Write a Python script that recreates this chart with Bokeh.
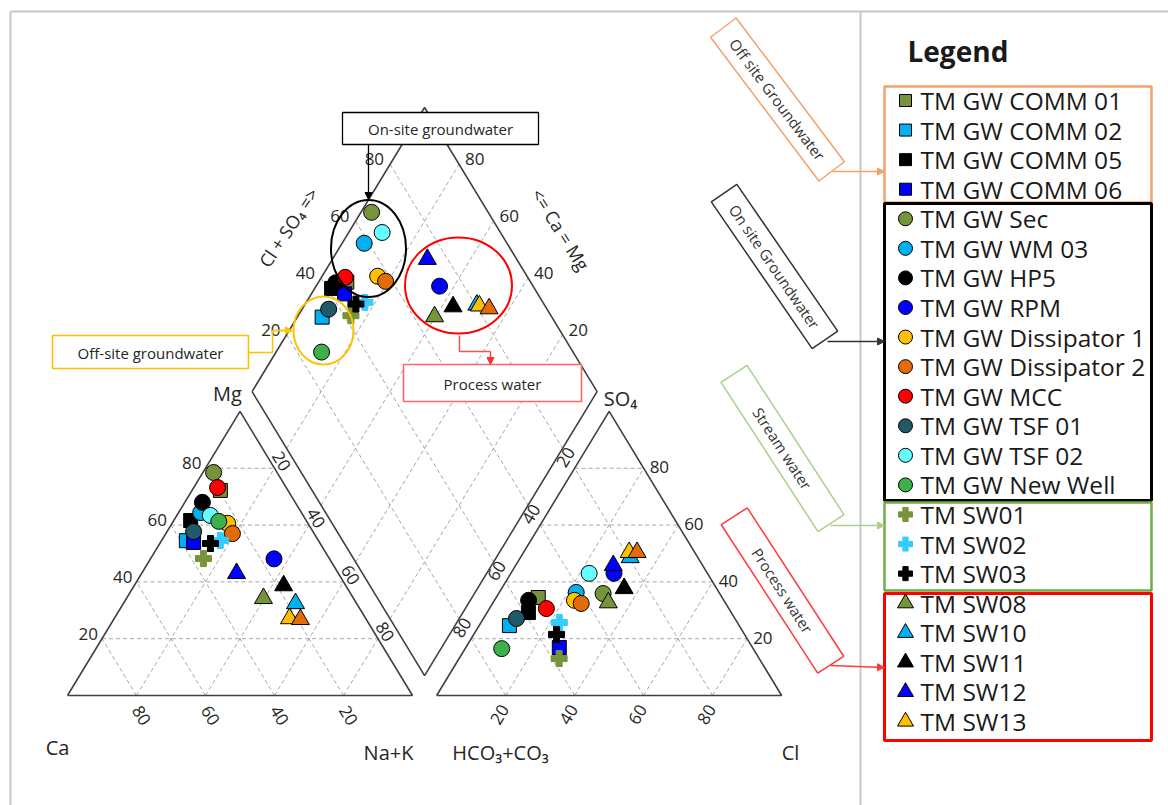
import math
from bokeh.plotting import figure
from bokeh.models import Range1d, Arrow, NormalHead
from bokeh.core.properties import value
from bokeh.embed import file_html
from bokeh.resources import INLINE

# ---------------- sample chemistry (meq %) ----------------
names = ["TM GW COMM 01", "TM GW COMM 02", "TM GW COMM 05", "TM GW COMM 06",
         "TM GW Sec", "TM GW WM 03", "TM GW HP5", "TM GW RPM",
         "TM GW Dissipator 1", "TM GW Dissipator 2", "TM GW MCC",
         "TM GW TSF 01", "TM GW TSF 02", "TM GW New Well",
         "TM SW01", "TM SW02", "TM SW03",
         "TM SW08", "TM SW10", "TM SW11", "TM SW12", "TM SW13", "TM SW process"]
in_legend = [True] * 22 + [False]

ca = [19.6, 38.3, 33.5, 36.5, 18.4, 29.2, 26.9, 16.1, 23.3, 23.7, 19.9, 34.6,
      26.9, 25.5, 36.5, 28.4, 31.8, 26.1, 17.7, 18.0, 29.5, 22.1, 19.1]
mg = [72.2, 54.5, 61.6, 53.9, 78.5, 64.4, 68.0, 48.1, 60.6, 57.0, 73.2, 57.7,
      63.4, 61.3, 48.2, 54.6, 53.5, 34.2, 32.4, 38.7, 43.0, 27.1, 26.8]
nak = [8.2, 7.2, 4.9, 9.6, 3.1, 6.4, 5.1, 35.8, 16.1, 19.3, 6.9, 7.7,
       9.7, 13.2, 15.3, 17.0, 14.7, 39.7, 49.9, 43.3, 27.5, 50.8, 54.1]
hco3 = [53.3, 66.6, 58.8, 56.0, 33.8, 41.4, 56.6, 27.1, 43.3, 41.9, 52.9, 63.3,
        34.3, 72.9, 58.0, 51.6, 54.5, 33.9, 19.6, 26.8, 25.9, 19.0, 16.7]
so4 = [34.5, 24.6, 29.2, 16.9, 35.9, 36.3, 33.5, 43.0, 33.5, 32.4, 30.6, 27.1,
       43.0, 16.5, 13.0, 25.7, 21.5, 32.7, 48.6, 37.7, 45.8, 50.4, 50.4]
cl = [12.2, 8.8, 12.0, 27.1, 30.3, 22.3, 9.9, 29.9, 23.2, 25.7, 16.5, 9.6,
      22.7, 10.6, 29.0, 22.7, 24.0, 33.4, 31.8, 35.5, 28.3, 30.6, 32.9]

ticks = [20, 40, 60, 80]

# ---------------- marker styles ----------------
OLIVE, SKY, BLACK, BLUE = "#77933C", "#00B0F0", "#000000", "#0000FF"
GOLD, ORANGE, RED, TEAL = "#FFC000", "#E36C09", "#FF0000", "#215968"
CYAN, GREEN, SKY2 = "#66FFFF", "#3EB049", "#33CCFF"
shapes = ["square"] * 4 + ["circle"] * 10 + ["plus"] * 3 + ["triangle"] * 6
fills = [OLIVE, SKY, BLACK, BLUE,
         OLIVE, SKY, BLACK, BLUE, GOLD, ORANGE, RED, TEAL, CYAN, GREEN,
         OLIVE, SKY2, BLACK,
         OLIVE, SKY, BLACK, BLUE, GOLD, ORANGE]
SIZES = {"square": 14, "circle": 16, "plus": 16, "triangle": 18}

# ---------------- page geometry ----------------
W, H = 1168, 805
X0, Y0 = 67.0, 695.0      # page pixel of the Ca corner
SX, SY = 3.45, 3.28       # page pixels per diagram unit
GAP = 7.0                 # gap between the two triangles
HT = math.sqrt(3) / 2
OX = 100 + GAP            # origin of the anion triangle
FONT = "Open Sans"
TXT = "#262626"
LINE = "#404040"
GRID = "#a6a6a6"


def P(px, py):
    return ((px - X0) / SX, (Y0 - py) / SY)


def shift(pt, dx, dy):
    return (pt[0] + dx / SX, pt[1] - dy / SY)


def dpt(a, c):
    """Diamond position for Na+K = a and Cl+SO4 = c."""
    return ((a + OX + c) / 2, HT * (OX + c - a))


p = figure(width=W, height=H, x_range=Range1d(-X0 / SX, (W - X0) / SX),
           y_range=Range1d((Y0 - H) / SY, Y0 / SY), output_backend="svg",
           toolbar_location=None, x_axis_type=None, y_axis_type=None,
           min_border=0)
p.outline_line_color = None
p.background_fill_color = "white"
p.border_fill_color = "white"


def label(pt, s, size, angle=0.0, align="center", baseline="middle",
          color=TXT, style="normal"):
    p.text(x=[pt[0]], y=[pt[1]], text=[s], angle=math.radians(angle),
           text_align=align, text_baseline=baseline, text_font=value(FONT),
           text_font_size=value(f"{size}px"), text_color=color,
           text_font_style=value(style))


def pline(points, color, width=1.0, dash="solid"):
    pts = [P(*q) for q in points]
    p.line([q[0] for q in pts], [q[1] for q in pts], line_color=color,
           line_width=width, line_dash=dash)


# ---------------- page frame ----------------
pline([(10, 11), (W, 11)], "#c8c8c8", 2)
pline([(10, 11), (10, H)], "#c8c8c8", 2)
pline([(860, 11), (860, H)], "#c8c8c8", 2)

# ---------------- grid ----------------
gx, gy = [], []


def seg(a, b):
    gx.append([a[0], b[0]])
    gy.append([a[1], b[1]])


for k in ticks:
    r = 100 - k
    # cation triangle
    seg((k / 2, k * HT), (100 - k / 2, k * HT))
    seg((100 - k, 0), (r / 2, r * HT))
    seg((k, 0), (k + r / 2, r * HT))
    # anion triangle
    seg((OX + k / 2, k * HT), (OX + 100 - k / 2, k * HT))
    seg((OX + k, 0), (OX + k + r / 2, r * HT))
    seg((OX + 100 - k, 0), (OX + r / 2, r * HT))
    # diamond
    seg(dpt(k, 0), dpt(k, 100))
    seg(dpt(0, k), dpt(100, k))
p.multi_line(gx, gy, line_color=GRID, line_width=1, line_dash="4 3")

# ---------------- outlines ----------------
outlines = [
    [(0, 0), (100, 0), (50, 100 * HT), (0, 0)],
    [(OX, 0), (OX + 100, 0), (OX + 50, 100 * HT), (OX, 0)],
    [dpt(0, 0), dpt(0, 100), dpt(100, 100), dpt(100, 0), dpt(0, 0)],
]
for poly in outlines:
    p.line([q[0] for q in poly], [q[1] for q in poly], line_color=LINE,
           line_width=1.6)

# ---------------- tick labels ----------------
TS = 17
for k in ticks:
    r = 100 - k
    label(shift((k / 2, k * HT), -4, -5), str(k), TS, align="right")          # Mg
    label(shift((100 - k, 0), 5, 20), str(k), TS, angle=-59)                  # Ca
    label(shift((50 + k / 2, r * HT), 7, -7), str(k), TS, angle=-59)          # Na+K
    label(shift((OX + 100 - k / 2, k * HT), 6, -1), str(k), TS, align="left") # SO4
    label(shift((OX + k, 0), -6, 19), str(k), TS, angle=59)                   # Cl
    label(shift((OX + r / 2, r * HT), -9, -11), str(k), TS, angle=59)         # HCO3
    label(shift(dpt(0, k), -6, -5), str(k), TS, align="right")                # Cl+SO4
    label(shift(dpt(r, 100), 6, -5), str(k), TS, align="left")                # Ca+Mg

# corner and axis titles
CS = 20
label(P(227, 393), "Mg", CS)
label(P(57, 747), "Ca", CS)
label(P(388, 752), "Na+K", CS)
label(P(500, 752), "HCO\u2083+CO\u2083", CS)
label(P(790, 752), "Cl", CS)
label(P(620, 398), "SO\u2084", CS)
label(P(288, 227), "Cl + SO\u2084 =>", 18, angle=56)
label(P(560, 229), "<= Ca = Mg", 18, angle=-58)

# ---------------- samples ----------------
for i in range(len(names)):
    ct = ca[i] + mg[i] + nak[i]
    at = hco3[i] + so4[i] + cl[i]
    m, a = 100 * mg[i] / ct, 100 * nak[i] / ct
    s, c = 100 * so4[i] / at, 100 * cl[i] / at
    dx, dy = dpt(a, s + c)
    xs = [a + m / 2, OX + c + s / 2, dx]
    ys = [m * HT, s * HT, dy]
    edge = fills[i] if shapes[i] == "plus" and fills[i] != BLACK else BLACK
    p.scatter(xs, ys, marker=shapes[i], size=SIZES[shapes[i]],
              fill_color=fills[i], line_color=edge, line_width=1)

# ---------------- group annotations on the diagram ----------------
for (cx, cy, w, h, col) in [(368, 248, 75, 97, "#000000"),
                            (323, 330, 60, 68, "#FFC000"),
                            (458, 285, 107, 96, "#FF0000")]:
    q = P(cx, cy)
    p.ellipse(x=[q[0]], y=[q[1]], width=w, height=h, width_units="screen",
              height_units="screen", fill_color=None, line_color=col,
              line_width=2)


def box(l, t, r, b, col, width=1.3, fill="white"):
    a, z = P(l, t), P(r, b)
    p.quad(left=[a[0]], right=[z[0]], top=[a[1]], bottom=[z[1]],
           fill_color=fill, line_color=col, line_width=width)


def arrow(x1, y1, x2, y2, col, size=7):
    a, z = P(x1, y1), P(x2, y2)
    p.add_layout(Arrow(end=NormalHead(size=size, fill_color=col, line_color=col),
                       x_start=a[0], y_start=a[1], x_end=z[0], y_end=z[1],
                       line_color=col, line_width=1.3))


box(342, 112, 538, 144, "#000000")
label(P(440, 128), "On-site groundwater", 15)
arrow(368, 144, 368, 199, "#000000")

box(52, 335, 248, 368, "#FFC000", 1.6)
label(P(150, 352), "Off-site groundwater", 15)
pline([(248, 352), (272, 352), (272, 330), (285, 330)], "#FFC000", 1.5)
arrow(272, 330, 292, 330, "#FFC000")

box(403, 364, 581, 401, "#FF6666", 1.6)
label(P(492, 383), "Process water", 15)
pline([(459, 335), (459, 351), (490, 351)], "#FF5050", 1.5)
arrow(490, 351, 490, 364, "#FF3030")

# ---------------- legend ----------------
label(P(907, 50), "Legend", 28, align="left", style="bold", color="#1a1a1a")

box(884, 86, 1151, 202, "#F4A26B", 2.5, fill=None)
box(884, 203, 1151, 500, "#000000", 3, fill=None)
box(884, 502, 1151, 590, "#70AD47", 2.5, fill=None)
box(884, 593, 1151, 740, "#FF0000", 3, fill=None)

row = 0
for i in range(len(names)):
    if not in_legend[i]:
        continue
    py = 100 + row * 29.57
    q = P(905, py)
    edge = fills[i] if shapes[i] == "plus" and fills[i] != BLACK else BLACK
    p.scatter([q[0]], [q[1]], marker=shapes[i], size=SIZES[shapes[i]] - 2,
              fill_color=fills[i], line_color=edge, line_width=1)
    label(P(920, py), names[i], 24.5, align="left", color="#1a1a1a")
    row += 1

# rotated group tags pointing at the legend
tags = [("Off site Groundwater", 777, 99, 180, 32, -53, "#F4A26B", (832, 171, 884, 171)),
        ("On site Groundwater", 774, 266, 178, 31, -55.5, "#333333", (827, 341, 884, 341)),
        ("Stream water", 782, 448, 178, 31, -57, "#A9D18E", (830, 525, 884, 525)),
        ("Process water", 782, 590, 177, 31, -57, "#FF3B3B", (830, 665, 884, 667))]
for text, cx, cy, w, h, ang, col, arr in tags:
    q = P(cx, cy)
    p.rect(x=[q[0]], y=[q[1]], width=w, height=h, width_units="screen",
           height_units="screen", angle=math.radians(ang), fill_color="white",
           line_color=col, line_width=1.5)
    label(q, text, 15, angle=ang, color="#333333")
    arrow(*arr, col)

open("out.html", "w").write(file_html(p, INLINE))
